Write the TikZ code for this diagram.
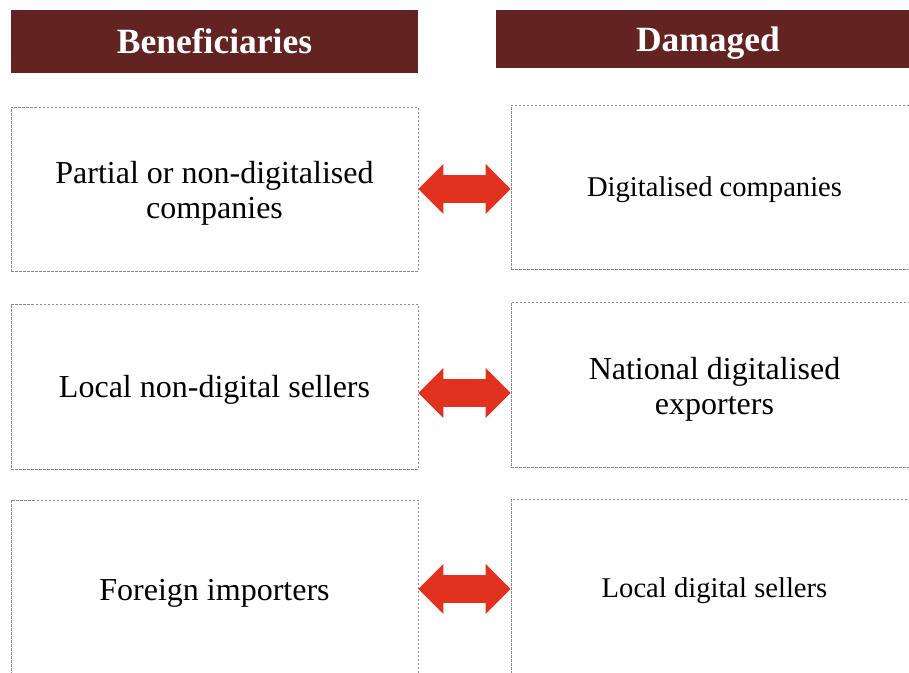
\documentclass[tikz,border=0pt]{standalone}
\usepackage{fontspec}
\setmainfont{Liberation Serif}
\usetikzlibrary{arrows.meta}
\definecolor{headred}{RGB}{99,35,33}
\definecolor{arrowred}{RGB}{224,50,31}
\definecolor{dashgray}{RGB}{140,140,140}
% taller first line, to set the text a little lower in its box
\newcommand{\lowtext}[1]{\rule{0pt}{#1}}
\begin{document}
\begin{tikzpicture}[x=1pt,y=-1pt,
	head/.style={fill=headred,text=white,inner sep=0pt,text height=24pt,text depth=0pt,font=\bfseries\fontsize{35.5}{38}\selectfont},
	cell/.style={draw=dashgray,line width=0.8pt,dash pattern=on 2.5pt off 1.5pt,minimum width=407pt,inner sep=0pt,align=center},
	big/.style={font=\fontsize{32}{35}\selectfont},
	small/.style={font=\fontsize{28.6}{33}\selectfont},
	twoway/.style={arrowred,line width=28pt,
		{Triangle[length=25pt,width=50pt,line width=0pt]}-{Triangle[length=25pt,width=50pt,line width=0pt]}}]
	\useasboundingbox (0,0) rectangle (909,672);
	% headers
	\node[head,minimum width=407pt,minimum height=63pt] (hb) at (214.5,41.5) {Beneficiaries};
	\node[head,minimum width=424pt,minimum height=58pt] (hd) at (708,39) {Damaged};
	% left column
	\node[cell,big,minimum height=164pt] (b1) at (214.5,189) {\lowtext{30pt}Partial or non-digitalised\\companies};
	\node[cell,big,minimum height=165pt] (b2) at (214.5,386.5) {\lowtext{29pt}Local non-digital sellers};
	\node[cell,big,minimum height=178pt] (b3) at (214.5,589) {\lowtext{29pt}Foreign importers};
	% right column
	\node[cell,small,minimum height=164pt] (d1) at (714.5,187) {\lowtext{26pt}Digitalised companies};
	\node[cell,big,minimum height=165pt] (d2) at (714.5,384.5) {\lowtext{31pt}National digitalised\\exporters};
	\node[cell,small,minimum height=178pt] (d3) at (714.5,588) {\lowtext{26pt}Local digital sellers};
	% arrows between the columns
	\path ([yshift=-6.5pt]b2.east) coordinate (a2);
	\draw[twoway] (b1.east) -- (b1.east -| d1.west);
	\draw[twoway] (a2) -- (a2 -| d2.west);
	\draw[twoway] (b3.east) -- (b3.east -| d3.west);
\end{tikzpicture}
\end{document}
